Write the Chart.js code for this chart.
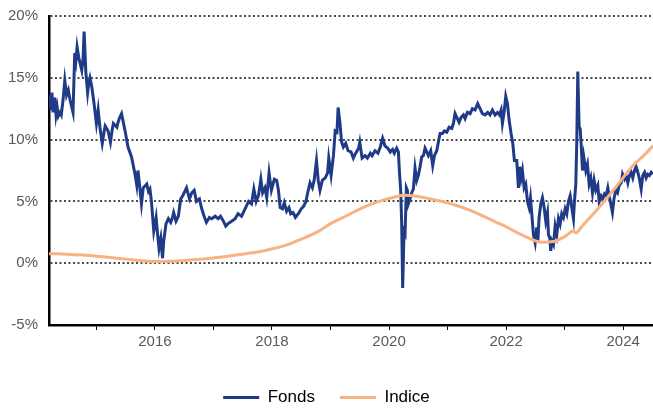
<!DOCTYPE html>
<html>
<head>
<meta charset="utf-8">
<script src="https://cdn.jsdelivr.net/npm/chart.js@4"></script>
<style>
  html, body { margin: 0; padding: 0; background: #fff; }
  #wrap { width: 653px; height: 408px; }
</style>
</head>
<body>
<div id="wrap"><canvas id="chart" width="653" height="408"></canvas></div>
<script>
// --- data (x = decimal year, y = %) ---
const fondsDates = [
  2014.19, 2014.205, 2014.22, 2014.24, 2014.26, 2014.29, 2014.31, 2014.33, 2014.35, 2014.38,
  2014.40, 2014.43, 2014.46, 2014.49, 2014.52, 2014.55, 2014.58, 2014.60, 2014.63, 2014.65,
  2014.67, 2014.70, 2014.72, 2014.75, 2014.77, 2014.79, 2014.82, 2014.85, 2014.87, 2014.89,
  2014.92, 2014.96, 2015.00, 2015.03, 2015.06, 2015.10, 2015.13, 2015.15, 2015.20, 2015.24,
  2015.27, 2015.29, 2015.35, 2015.37, 2015.40, 2015.43, 2015.46, 2015.49, 2015.54, 2015.60,
  2015.66, 2015.69, 2015.71, 2015.74, 2015.77, 2015.80, 2015.86, 2015.89, 2015.915, 2015.94,
  2015.98, 2016.02, 2016.04, 2016.07, 2016.10, 2016.13, 2016.15, 2016.19, 2016.23, 2016.27,
  2016.30, 2016.32, 2016.36, 2016.40, 2016.44, 2016.48, 2016.54, 2016.59, 2016.63, 2016.67,
  2016.71, 2016.76, 2016.80, 2016.84, 2016.88, 2016.93, 2016.97, 2017.03, 2017.08, 2017.12,
  2017.17, 2017.21, 2017.25, 2017.31, 2017.37, 2017.42, 2017.48, 2017.54, 2017.60, 2017.65,
  2017.69, 2017.73, 2017.77, 2017.81, 2017.84, 2017.88, 2017.91, 2017.95, 2017.99, 2018.04,
  2018.08, 2018.11, 2018.14, 2018.18, 2018.21, 2018.25, 2018.29, 2018.32, 2018.36, 2018.40,
  2018.45, 2018.50, 2018.54, 2018.58, 2018.61, 2018.65, 2018.69, 2018.72, 2018.76, 2018.79,
  2018.82, 2018.86, 2018.91, 2018.95, 2018.97, 2019.01, 2019.05, 2019.08, 2019.11, 2019.13,
  2019.16, 2019.19, 2019.22, 2019.26, 2019.30, 2019.35, 2019.39, 2019.43, 2019.48, 2019.50,
  2019.54, 2019.59, 2019.63, 2019.68, 2019.71, 2019.76, 2019.81, 2019.85, 2019.89, 2019.93,
  2019.98, 2020.02, 2020.06, 2020.09, 2020.13, 2020.16, 2020.176, 2020.199, 2020.216, 2020.233,
  2020.256, 2020.274, 2020.296, 2020.313, 2020.330, 2020.359, 2020.387, 2020.416, 2020.444, 2020.473,
  2020.501, 2020.530, 2020.558, 2020.587, 2020.615, 2020.644, 2020.672, 2020.712, 2020.746, 2020.775,
  2020.815, 2020.843, 2020.872, 2020.912, 2020.946, 2020.986, 2021.026, 2021.071, 2021.100, 2021.128,
  2021.157, 2021.197, 2021.231, 2021.271, 2021.299, 2021.339, 2021.385, 2021.424, 2021.470, 2021.515,
  2021.555, 2021.595, 2021.641, 2021.686, 2021.726, 2021.766, 2021.812, 2021.852, 2021.886, 2021.915,
  2021.937, 2021.966, 2021.994, 2022.023, 2022.051, 2022.085, 2022.114, 2022.142, 2022.182, 2022.211,
  2022.233, 2022.256, 2022.279, 2022.308, 2022.336, 2022.365, 2022.393, 2022.416, 2022.439, 2022.467,
  2022.496, 2022.524, 2022.541, 2022.564, 2022.593, 2022.621, 2022.650, 2022.678, 2022.707, 2022.724,
  2022.746, 2022.763, 2022.781, 2022.809, 2022.838, 2022.866, 2022.895, 2022.923, 2022.951, 2022.980,
  2023.009, 2023.037, 2023.065, 2023.094, 2023.122, 2023.151, 2023.168, 2023.191, 2023.208, 2023.225,
  2023.248, 2023.265, 2023.282, 2023.305, 2023.327, 2023.362, 2023.390, 2023.419, 2023.447, 2023.476,
  2023.504, 2023.533, 2023.567, 2023.590, 2023.624, 2023.652, 2023.681, 2023.709, 2023.738, 2023.766,
  2023.789, 2023.817, 2023.846, 2023.875, 2023.903, 2023.932, 2023.966, 2023.989, 2024.023, 2024.051,
  2024.080, 2024.108, 2024.137, 2024.165, 2024.194, 2024.222, 2024.251, 2024.279, 2024.308, 2024.336,
  2024.365, 2024.393, 2024.422, 2024.450, 2024.479, 2024.507
];
const fondsValues = [
  12.8, 13.6, 12.4, 13.8, 12.2, 13.4, 12.0, 12.6, 11.9, 12.2,
  12.0, 13.2, 14.8, 13.6, 14.0, 13.2, 12.6, 12.2, 17.0, 16.4,
  17.5, 16.6, 16.2, 15.6, 16.4, 18.75, 15.4, 13.8, 14.6, 15.0,
  14.3, 12.9, 11.3, 12.4, 11.0, 9.7, 10.6, 11.1, 10.7, 9.8,
  10.8, 11.3, 11.0, 11.4, 11.8, 12.1, 11.4, 10.7, 9.4, 8.6,
  7.2, 6.3, 7.5, 6.2, 4.8, 6.1, 6.4, 5.8, 6.0, 5.0,
  2.6, 3.7, 2.6, 1.2, 2.0, 0.4, 1.8, 3.2, 3.6, 3.3,
  3.7, 4.1, 3.4, 3.8, 5.2, 5.5, 6.1, 5.2, 5.7, 5.9,
  5.0, 5.2, 4.4, 3.8, 3.3, 3.7, 3.6, 3.8, 3.6, 3.8,
  3.4, 3.0, 3.2, 3.4, 3.6, 4.0, 3.8, 4.4, 5.0, 4.8,
  6.0, 5.0, 5.5, 6.8, 5.7, 6.1, 5.3, 7.3, 5.9, 6.8,
  6.7, 5.9, 4.5, 4.4, 4.9, 4.2, 4.5, 4.0, 4.1, 3.7,
  4.0, 4.4, 4.6, 5.0, 5.7, 6.5, 6.1, 6.7, 8.3, 6.7,
  5.9, 6.7, 6.9, 7.3, 8.5, 7.1, 8.7, 10.7, 10.6, 12.6,
  11.4, 9.8, 9.4, 9.7, 9.1, 9.0, 8.5, 8.9, 9.3, 9.8,
  8.5, 8.7, 8.5, 8.9, 8.7, 9.1, 8.9, 9.4, 10.1, 9.5,
  9.3, 9.0, 9.2, 8.9, 9.3, 9.0, 7.5, 5.9, 3.2, -2.0,
  2.6, 2.4, 6.1, 5.9, 4.8, 5.2, 5.7, 6.0, 7.7, 6.7,
  7.1, 7.8, 8.6, 8.7, 9.3, 9.0, 8.7, 9.1, 7.9, 8.7,
  9.1, 9.8, 10.5, 10.5, 10.7, 10.6, 11.0, 10.9, 11.3, 12.1,
  11.8, 11.4, 11.8, 12.0, 11.7, 12.2, 12.1, 12.5, 12.4, 12.9,
  12.5, 12.1, 12.0, 12.2, 12.0, 12.4, 12.0, 12.2, 12.0, 12.4,
  11.3, 12.2, 13.5, 12.9, 11.6, 10.5, 9.7, 8.3, 8.3, 6.1,
  7.8, 6.9, 7.5, 6.1, 6.4, 5.0, 4.5, 5.3, 4.0, 2.3,
  1.65, 2.9, 1.65, 3.7, 4.8, 5.3, 4.5, 3.4, 4.1, 2.3,
  2.05, 1.0, 1.8, 1.5, 3.0, 2.3, 3.6, 3.15, 4.0, 3.7,
  4.4, 4.0, 5.0, 5.45, 4.5, 3.6, 5.0, 6.4, 9.9, 15.5,
  11.0, 10.9, 9.7, 7.5, 8.6, 7.5, 8.0, 6.4, 6.9, 5.7,
  6.7, 5.9, 6.3, 5.0, 5.45, 5.2, 5.6, 5.45, 6.1, 5.3,
  4.8, 4.1, 5.3, 5.9, 5.7, 6.3, 6.5, 7.2, 6.8, 7.1,
  6.5, 7.1, 7.35, 6.9, 7.5, 7.8, 7.35, 6.8, 6.0, 7.1,
  7.35, 6.9, 7.2, 7.1, 7.35, 7.2
];

const indiceDates = [
  2014.19, 2014.5, 2015.0, 2015.5, 2016.0, 2016.3, 2016.6, 2017.0, 2017.3, 2017.6,
  2017.9, 2018.2, 2018.5, 2018.8, 2019.0, 2019.3, 2019.6, 2019.9, 2020.1, 2020.25,
  2020.5, 2020.8, 2021.1, 2021.4, 2021.7, 2022.0, 2022.2, 2022.4, 2022.6, 2022.8,
  2023.0, 2023.15, 2023.19, 2023.3, 2023.55, 2023.85, 2024.15, 2024.35, 2024.51
];
const indiceValues = [
  0.77, 0.72, 0.57, 0.33, 0.14, 0.15, 0.25, 0.42, 0.6, 0.8,
  1.05, 1.4, 1.95, 2.6, 3.2, 3.9, 4.6, 5.1, 5.35, 5.5,
  5.4, 5.1, 4.75, 4.25, 3.6, 2.95, 2.45, 2.0, 1.7, 1.75,
  2.15, 2.6, 2.45, 3.0, 4.3, 6.0, 7.8, 8.7, 9.5
];

const tickYears = [2015, 2016, 2017, 2018, 2019, 2020, 2021, 2022, 2023, 2024];
const labelYears = [2016, 2018, 2020, 2022, 2024];
const seriesNames = ["Fonds", "Indice"];

const FONDS_COLOR = "#1f3a87";
const INDICE_COLOR = "#f9b282";
const FONT = "'Liberation Sans', Arial, sans-serif";

const toPoints = (xs, ys) => xs.map((x, i) => ({ x: x, y: ys[i] }));

const ctx = document.getElementById("chart").getContext("2d");
const chart = new Chart(ctx, {
    type: "line",
    data: {
        datasets: [
            { label: seriesNames[0], data: toPoints(fondsDates, fondsValues), borderColor: FONDS_COLOR, backgroundColor: FONDS_COLOR,
              borderWidth: 3, pointRadius: 0, tension: 0, order: 1 },
            { label: seriesNames[1], data: toPoints(indiceDates, indiceValues), borderColor: INDICE_COLOR, backgroundColor: INDICE_COLOR,
              borderWidth: 3, pointRadius: 0, tension: 0.4, cubicInterpolationMode: "monotone", order: 0 }
        ]
    },
    options: {
        responsive: false,
        animation: false,
        layout: { padding: { top: 16, left: 0, right: 0, bottom: 0 } },
        scales: {
            x: {
                type: "linear",
                min: 2014.19,
                max: 2024.51,
                afterBuildTicks: s => { s.ticks = tickYears.map(v => ({ value: v })); },
                afterFit: s => { s.height = 39; s.paddingLeft = 0; s.paddingRight = 0; },
                grid: { drawOnChartArea: false, drawTicks: true, tickLength: 5, color: "#000", lineWidth: 1 },
                border: { display: true, color: "#000", width: 2.5 },
                ticks: {
                    padding: 3, maxRotation: 0, autoSkip: false,
                    color: "#595959", font: { family: FONT, size: 15 },
                    callback: v => labelYears.includes(v) ? String(v) : ""
                }
            },
            y: {
                min: -5,
                max: 20,
                afterFit: s => { s.width = 49; s.paddingTop = 0; s.paddingBottom = 0; },
                grid: { drawTicks: false, tickLength: 0, color: "#4a4a4a", lineWidth: 2 },
                border: { display: true, color: "#000", width: 2.5, dash: [2, 2.5] },
                ticks: {
                    stepSize: 5, padding: 11,
                    color: "#595959", font: { family: FONT, size: 15 },
                    callback: v => v + "%"
                }
            }
        },
        plugins: {
            tooltip: { enabled: false },
            legend: {
                position: "bottom",
                maxHeight: 44,
                labels: {
                    padding: 25, boxWidth: 36, boxHeight: 3,
                    color: "#000", font: { family: FONT, size: 17 },
                    generateLabels: c => c.data.datasets.map((d, i) => ({
                        text: d.label, fillStyle: d.borderColor, strokeStyle: d.borderColor,
                        lineWidth: 0, hidden: false, datasetIndex: i
                    }))
                }
            }
        }
    }
});
</script>
</body>
</html>
